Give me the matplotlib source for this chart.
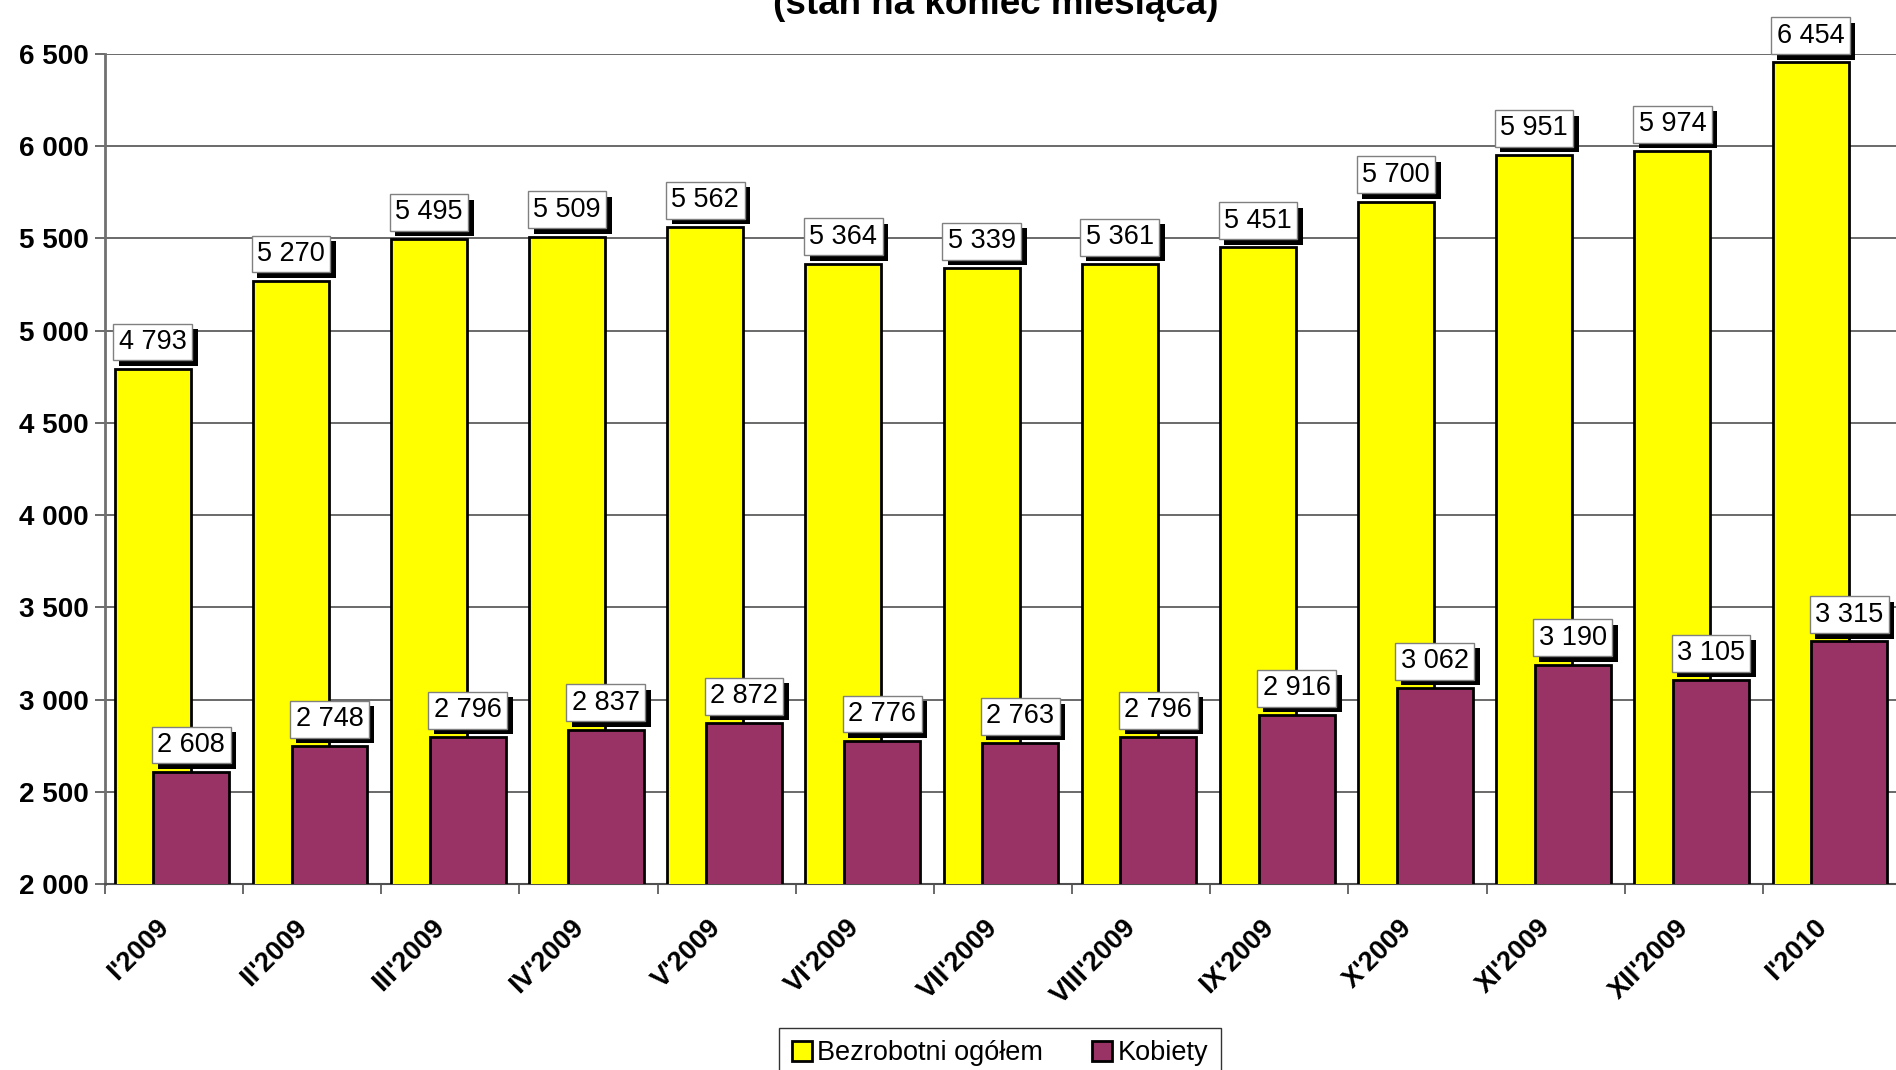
import matplotlib
matplotlib.use("Agg")
import matplotlib.pyplot as plt
import matplotlib.patheffects as pe
import matplotlib.transforms as mtrans
from matplotlib.ticker import MultipleLocator, FuncFormatter
import numpy as np

plt.rcParams['font.family'] = ['Liberation Sans', 'DejaVu Sans']

categories = ["I'2009", "II'2009", "III'2009", "IV'2009", "V'2009", "VI'2009",
              "VII'2009", "VIII'2009", "IX'2009", "X'2009", "XI'2009", "XII'2009", "I'2010"]
ogolem = [4793, 5270, 5495, 5509, 5562, 5364, 5339, 5361, 5451, 5700, 5951, 5974, 6454]
kobiety = [2608, 2748, 2796, 2837, 2872, 2776, 2763, 2796, 2916, 3062, 3190, 3105, 3315]
series_names = ["Bezrobotni ogółem", "Kobiety"]
title = "(stan na koniec miesiąca)"

W, H = 1896, 1070
fig = plt.figure(figsize=(W / 100, H / 100), dpi=100)
ax = fig.add_axes([105 / W, 1 - 884 / H, (1901 - 105) / W, (884 - 54) / H])

x = np.arange(len(categories))
bw = 0.55
yellow_off = -0.155
pink_off = 0.125

b1 = ax.bar(x + yellow_off, ogolem, bw, color='#FFFF00', edgecolor='black',
            linewidth=2, zorder=3, label=series_names[0])
b2 = ax.bar(x + pink_off, kobiety, bw, color='#993366', edgecolor='black',
            linewidth=2, zorder=4, label=series_names[1])

ax.set_ylim(2000, 6500)
ax.set_xlim(-0.5, len(categories) - 0.5)
ax.yaxis.set_major_locator(MultipleLocator(500))
ax.yaxis.set_major_formatter(FuncFormatter(lambda v, p: f"{int(v):,}".replace(",", " ")))
ax.grid(axis='y', color='#505050', linewidth=1.2, zorder=0)
ax.set_axisbelow(True)

ax.set_xticks(np.arange(len(categories) + 1) - 0.5, minor=False)
ax.set_xticklabels([])
ax.set_xticks(x, minor=True)
ax.set_xticklabels(categories, minor=True, rotation=45, ha='right', va='top',
                   fontsize=19.5, fontweight='bold')
shift = mtrans.ScaledTranslation(-6 / 100, 0, fig.dpi_scale_trans)
for lab in ax.get_xticklabels(minor=True):
    lab.set_transform(lab.get_transform() + shift)
ax.tick_params(axis='x', which='minor', length=0, pad=22)
ax.tick_params(axis='x', which='major', length=7, width=1.2, color='#505050', direction='out')
ax.tick_params(axis='y', length=7, width=1.2, color='#505050', labelsize=20, pad=5)
for lab in ax.get_yticklabels():
    lab.set_fontweight('bold')

for s in ['right', 'top']:
    ax.spines[s].set_visible(False)
ax.spines['left'].set_color('#707070')
ax.spines['left'].set_linewidth(2)
ax.spines['bottom'].set_color('#505050')
ax.spines['bottom'].set_linewidth(1.5)


def label(xpos, val, z):
    t = ax.annotate(f"{val:,}".replace(",", " "), xy=(xpos, val), xytext=(0, 10),
                    textcoords='offset points', ha='center', va='bottom', fontsize=19.5,
                    zorder=z, annotation_clip=False,
                    bbox=dict(boxstyle='square,pad=0.2', fc='white', ec='#808080', lw=1))
    t.get_bbox_patch().set_path_effects([
        pe.SimplePatchShadow(offset=(4, -4), shadow_rgbFace='black', alpha=1.0),
        pe.Normal()])
    return t


for xi, v in zip(x, ogolem):
    label(xi + yellow_off, v, 5)
for xi, v in zip(x, kobiety):
    label(xi + pink_off, v, 6)

fig.text(996 / W, 1 - 14.5 / H, title, ha='center', va='baseline', fontsize=26.5,
         fontweight='bold')

leg = fig.legend(handles=[b1, b2], labels=series_names, loc='upper center',
                 bbox_to_anchor=(1000 / W, 1 - 1028 / H), ncol=2, fontsize=19.5,
                 frameon=True, fancybox=False, edgecolor='black', handlelength=0.75,
                 handleheight=0.75, handletextpad=0.2, columnspacing=1.8,
                 borderpad=0.45, borderaxespad=0)
leg.get_frame().set_linewidth(1)

fig.savefig("out.png", dpi=100)
